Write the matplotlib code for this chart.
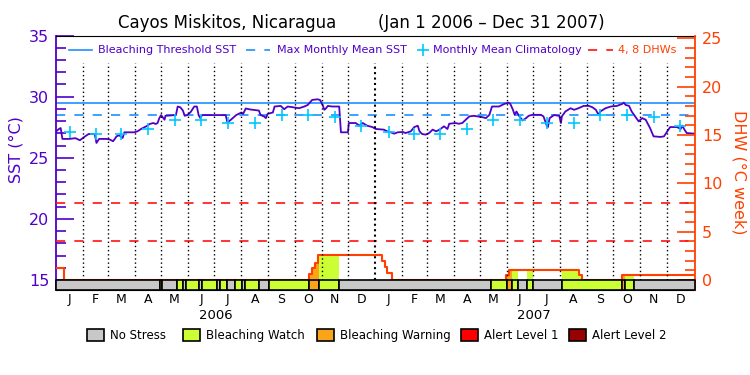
import numpy as np
import matplotlib
matplotlib.use('Agg')
import matplotlib.pyplot as plt
from matplotlib.lines import Line2D
from matplotlib.patches import Rectangle

# daily SST, days since Jan 1 2006
sst_days = [0, 3, 5, 7, 15, 22, 27, 33, 37, 44,
            46, 49, 57, 61, 65, 67, 69, 72, 76, 78,
            89, 93, 97, 103, 107, 111, 114, 116, 118, 120,
            124, 125, 137, 139, 142, 145, 147, 150, 154, 158,
            161, 163, 165, 167, 194, 196, 200, 206, 212, 214,
            217, 222, 232, 234, 238, 240, 242, 248, 250, 257,
            261, 265, 271, 278, 284, 288, 293, 299, 302, 305,
            307, 309, 311, 316, 324, 326, 334, 335, 343, 347,
            351, 356, 362, 366, 375, 379, 383, 387, 391, 397,
            400, 406, 410, 414, 416, 419, 423, 427, 431, 435,
            439, 444, 448, 450, 457, 461, 465, 469, 473, 478,
            488, 492, 496, 499, 507, 513, 518, 520, 523, 525,
            527, 530, 534, 538, 541, 545, 555, 558, 562, 563,
            565, 570, 576, 578, 579, 583, 589, 593, 598, 604,
            610, 614, 618, 621, 623, 629, 635, 642, 648, 650,
            652, 656, 659, 663, 667, 671, 675, 680, 684, 692,
            696, 699, 703, 711, 715, 717, 719, 722, 731]
sst = [27.16, 27.35, 27.43, 26.54, 26.54, 26.60, 26.43, 26.75, 26.94, 26.94,
       26.21, 26.54, 26.54, 26.50, 26.35, 26.54, 26.75, 26.84, 26.62, 27.08,
       27.08, 27.16, 27.35, 27.57, 27.76, 27.84, 27.76, 27.84, 28.24, 28.49,
       28.11, 28.43, 28.49, 29.19, 29.13, 28.86, 28.43, 28.49, 28.75, 29.19,
       29.19, 28.49, 28.24, 28.49, 28.49, 27.89, 28.11, 28.49, 28.70, 28.59,
       29.03, 28.95, 28.86, 28.49, 28.38, 28.24, 28.59, 28.70, 29.19, 29.24,
       28.97, 29.19, 29.13, 29.05, 29.19, 29.32, 29.73, 29.78, 29.73, 29.32,
       28.92, 29.05, 29.24, 29.19, 29.19, 27.08, 27.08, 27.84, 27.84, 27.62,
       27.84, 27.62, 27.51, 27.35, 27.30, 27.16, 27.08, 26.97, 27.08, 27.11,
       27.02, 27.16, 27.51, 27.62, 27.16, 26.94, 26.89, 27.02, 27.30, 27.16,
       27.30, 27.57, 27.35, 27.78, 27.84, 27.78, 27.84, 28.11, 28.38, 28.43,
       28.32, 28.24, 28.51, 29.19, 29.19, 29.40, 29.51, 29.40, 28.92, 28.51,
       28.78, 28.43, 28.05, 28.24, 28.43, 28.51, 28.51, 28.38, 27.57, 27.51,
       28.24, 28.49, 28.43, 27.84, 28.38, 28.78, 29.05, 28.92, 29.05, 29.24,
       29.24, 29.13, 28.92, 28.51, 28.78, 29.05, 29.19, 29.24, 29.40, 29.51,
       29.32, 29.24, 28.78, 28.38, 27.97, 28.24, 28.11, 27.43, 26.75, 26.70,
       26.75, 27.08, 27.51, 27.51, 27.35, 27.62, 27.35, 27.02, 26.97]

# monthly mean climatology (same for both years)
clim = [27.08, 26.95, 26.95, 27.35, 28.05, 28.05, 27.87, 27.87, 28.48, 28.48, 28.32, 27.62]
threshold = 29.48
mmm = 28.48
dhw_lines = [4, 8]

# degree heating weeks, step values
dhw_days = [0, 8.5, 289, 292.5, 296, 299.5, 373, 376.6, 379.3, 384, 515.5, 518.4, 598.5, 602.3, 648.2, 731.5]
dhw = [1.2, 0, 0.62, 1.21, 1.8, 2.55, 2.0, 1.38, 0.76, 0, 0.52, 1.04, 0.52, 0, 0.52, 0.52]

# bleaching stress level: 0 none, 1 watch, 2 warning, 3 alert 1, 4 alert 2
stress_start = [0, 119, 121.2, 138, 144.8, 148.6, 163.1, 166.9, 183.7, 187.5,
                195.1, 204.7, 212.3, 216.1, 232.5, 243.2, 288.9, 301.1, 324, 497.5,
                515.8, 522.2, 529, 539.4, 546.2, 578.7, 648.2, 651.2, 661.5]
stress_level = [0, 1, 0, 1, 0, 1, 0, 1, 0, 1,
                0, 1, 0, 1, 0, 1, 2, 1, 0, 1,
                2, 1, 0, 1, 0, 1, 2, 1, 0]

stress_names = ['No Stress', 'Bleaching Watch', 'Bleaching Warning', 'Alert Level 1', 'Alert Level 2']
stress_colors = ['#C8C8C8', '#CCFF33', '#FAA519', '#FF0000', '#990000']

month_letters = ['J', 'F', 'M', 'A', 'M', 'J', 'J', 'A', 'S', 'O', 'N', 'D']
month_len = [31, 28, 31, 30, 31, 30, 31, 31, 30, 31, 30, 31]
years = ['2006', '2007']

PURPLE = '#5000C8'
BLUE = '#1E90FF'
CYAN = '#00C8FF'
ORANGE = '#FF4000'
RED = '#FF1010'

W, H = 750, 375
XMAX = 731.5


def fx(x):
    return x / W


def fy(y):
    return 1 - y / H


fig = plt.figure(figsize=(W / 100, H / 100), dpi=100)
ax = fig.add_axes([fx(56.3), fy(290), (695 - 56.3) / W, (290 - 35.5) / H])
ax.set_xlim(0, XMAX)
ax.set_ylim(14.18, 35)
ax2 = ax.twinx()
ax2.set_ylim(-1.03, 25.3)

# spines / ticks
for s in ['top', 'bottom']:
    ax.spines[s].set_color('black')
    ax2.spines[s].set_visible(False)
ax.spines['left'].set_color(PURPLE)
ax.spines['left'].set_linewidth(1.3)
ax.spines['right'].set_visible(False)
ax2.spines['left'].set_visible(False)
ax2.spines['right'].set_color(ORANGE)
ax2.spines['right'].set_linewidth(1.3)
ax.set_xticks([])
ax.set_yticks([15, 20, 25, 30, 35])
ax.set_yticks(range(15, 36), minor=True)
ax.tick_params(axis='y', which='major', direction='in', length=13, width=1.2,
               color=PURPLE, labelcolor=PURPLE, labelsize=11.5, pad=5)
ax.tick_params(axis='y', which='minor', direction='in', length=7, width=1.2, color=PURPLE)
ax2.set_yticks([0, 5, 10, 15, 20, 25])
ax2.set_yticks(range(0, 26), minor=True)
ax2.tick_params(axis='y', which='major', direction='in', length=13, width=1.2,
                color=ORANGE, labelcolor=ORANGE, labelsize=11.5, pad=5)
ax2.tick_params(axis='y', which='minor', direction='in', length=7, width=1.2, color=ORANGE)

# month grid
bounds = np.concatenate([[0], np.cumsum(month_len * 2)])
centers = (bounds[:-1] + bounds[1:]) / 2
bar_top = 10 / 254.5
for i, b in enumerate(bounds[1:-1], start=1):
    if i == 12:
        ax2.axvline(b, ymin=bar_top, ymax=(290 - 63) / 254.5, color='black',
                    ls=(0, (1, 1.6)), lw=1.5, zorder=4)
    else:
        ax2.axvline(b, ymin=bar_top, ymax=(290 - 63) / 254.5, color='black',
                    ls=(0, (1, 2)), lw=1, zorder=4)

# threshold lines
ax.axhline(threshold, color=BLUE, lw=1.2)
ax.axhline(mmm, color=BLUE, lw=1.2, dashes=(5.5, 5.5))
for v in dhw_lines:
    ax2.axhline(v, color=RED, lw=1.2, dashes=(5.5, 5.5))

# SST and climatology
ax.plot(sst_days, sst, color=PURPLE, lw=1.3, zorder=5)
ax.plot(centers, clim * 2, '+', color=CYAN, ms=9, mew=1.2, zorder=6)

# DHW filled by stress colour
seg_end = stress_start[1:] + [XMAX]
grid = np.arange(0, XMAX, 0.25)
dhw_g = np.array(dhw)[np.searchsorted(dhw_days, grid, side='right') - 1]
lvl_g = np.array(stress_level)[np.searchsorted(stress_start, grid, side='right') - 1]
for lv in range(1, 5):
    m = lvl_g == lv
    if m.any():
        ax2.fill_between(grid, 0, dhw_g, where=m, step='post', color=stress_colors[lv], lw=0, zorder=2)
ax2.step(dhw_days, dhw, where='post', color=ORANGE, lw=1.5, zorder=3)

# stress bar
for s, e, lv in zip(stress_start, seg_end, stress_level):
    ax2.broken_barh([(s, e - s)], (-1.03, 1.03), facecolors=stress_colors[lv],
                    edgecolor='black', lw=1.2, zorder=5, clip_on=False)

# month and year labels
tr = ax.get_xaxis_transform()
for c, m in zip(centers, month_letters * 2):
    ax.text(c, -0.036, m, transform=tr, ha='center', va='center', fontsize=9)
for k, yr in enumerate(years):
    ax.text(182.5 + 365 * k, -0.1, yr, transform=tr, ha='center', va='center', fontsize=9.5)

# titles and axis labels
fig.text(fx(227), fy(23), 'Cayos Miskitos, Nicaragua', ha='center', va='center', fontsize=12)
fig.text(fx(378), fy(23), '(Jan 1 2006 \u2013 Dec 31 2007)', ha='left', va='center', fontsize=12)
fig.text(fx(16), fy(150), 'SST (\u00b0C)', rotation=90, ha='center', va='center',
         color=PURPLE, fontsize=11.5)
fig.text(fx(739), fy(172), 'DHW (\u00b0C week)', rotation=270, ha='center', va='center',
         color=ORANGE, fontsize=11.5)

# top legend
ly = fy(50)
fig.add_artist(Line2D([fx(69), fx(92)], [ly, ly], color=BLUE, lw=1.2))
fig.text(fx(98), ly, 'Bleaching Threshold SST', color=PURPLE, fontsize=8, va='center')
fig.add_artist(Line2D([fx(246), fx(270)], [ly, ly], color=BLUE, lw=1.2, dashes=(5.5, 5.5)))
fig.text(fx(277), ly, 'Max Monthly Mean SST', color=PURPLE, fontsize=8, va='center')
fig.add_artist(Line2D([fx(422.7)], [ly], color=CYAN, marker='+', ms=9, mew=1.2, lw=0))
fig.text(fx(433), ly, 'Monthly Mean Climatology', color=PURPLE, fontsize=8, va='center')
fig.add_artist(Line2D([fx(588), fx(613)], [ly, ly], color=RED, lw=1.2, dashes=(5.5, 5.5)))
fig.text(fx(618), ly, '4, 8 DHWs', color=ORANGE, fontsize=8, va='center')

# stress legend
box_x = [87.3, 183.3, 317.3, 461.3, 569.3]
for bx, name, col in zip(box_x, stress_names, stress_colors):
    fig.add_artist(Rectangle((fx(bx), fy(340.7)), 16.3 / W, 11.4 / H,
                             facecolor=col, edgecolor='black', lw=1.2))
    fig.text(fx(bx + 23), fy(335.5), name, fontsize=8.5, va='center')

fig.savefig('out.png', dpi=100)
